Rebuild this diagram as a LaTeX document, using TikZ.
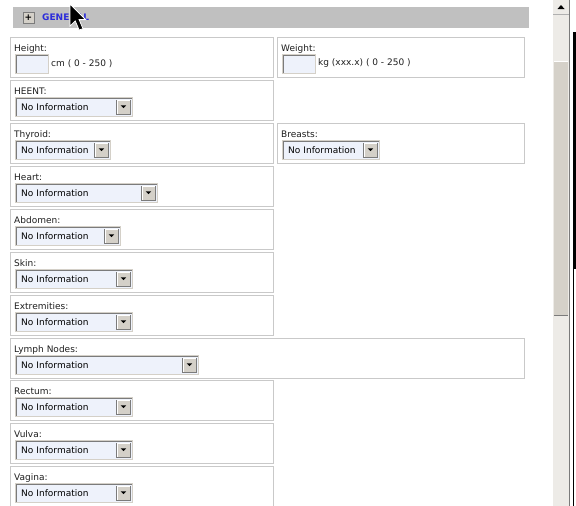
\documentclass[tikz,border=0pt]{standalone}
\usepackage{fontspec}
\setmainfont{DejaVu Sans}
\usetikzlibrary{positioning}

\definecolor{panelline}{HTML}{C9C9C9}
\definecolor{barfill}{HTML}{C0C0C0}
\definecolor{ddfill}{HTML}{EEF2FB}
\definecolor{ddlight}{HTML}{D4D0C8}
\definecolor{dddark}{HTML}{7B7B7B}
\definecolor{btnfill}{HTML}{D4D0C8}
\definecolor{linkblue}{HTML}{2C2CDA}
\definecolor{labeltext}{HTML}{1E1E1E}
\definecolor{track}{HTML}{EDEBE7}
\definecolor{thumb}{HTML}{D5D1C9}

\tikzset{
    panel/.style={draw=panelline,line width=1pt,anchor=north west,minimum height=40pt,inner sep=0pt},
    fieldlabel/.style={anchor=base west,inner sep=0pt,text=labeltext,font=\fontsize{9}{10}\selectfont},
    units/.style={anchor=west,inner sep=0pt,text=labeltext,font=\fontsize{9}{10}\selectfont},
    entry/.style={draw=ddlight,fill=ddfill,anchor=north west,minimum width=33pt,minimum height=19pt,inner sep=0pt,
        path picture={\draw[dddark,line width=3pt] (path picture bounding box.south west) -- (path picture bounding box.north west) -- (path picture bounding box.north east);}},
    dropdown/.style={draw=ddlight,fill=ddfill,anchor=north west,text width=#1,align=left,inner xsep=6pt,inner ysep=0pt,
        minimum height=19pt,font=\fontsize{9}{10}\selectfont,
        path picture={
            \draw[dddark,line width=3pt] (path picture bounding box.south west) -- (path picture bounding box.north west) -- (path picture bounding box.north east);
            \draw[dddark,fill=btnfill,line width=0.8pt] ([shift={(-15.5pt,-3pt)}]path picture bounding box.north east) rectangle ([shift={(-2pt,2pt)}]path picture bounding box.south east);
            \draw[white,line width=0.8pt] ([shift={(-15pt,2.6pt)}]path picture bounding box.south east) -- ([shift={(-15pt,-3.5pt)}]path picture bounding box.north east) -- ([shift={(-2.6pt,-3.5pt)}]path picture bounding box.north east);
            \fill[black] ([shift={(-11.5pt,1.4pt)}]path picture bounding box.east) -- ([shift={(-6pt,1.4pt)}]path picture bounding box.east) -- ([shift={(-8.75pt,-1.4pt)}]path picture bounding box.east) -- cycle;
        }},
}

\begin{document}
\begin{tikzpicture}[x=1pt,y=-1pt]

    \useasboundingbox (0,0) rectangle (576,506);

    % header bar %
    \node[fill=barfill,anchor=north west,minimum width=516pt,minimum height=21pt,inner sep=0pt] (bar) at (13,7) {};
    \node[draw=dddark,fill=btnfill,minimum size=11pt,inner sep=0pt,font=\fontsize{9}{9}\selectfont\bfseries] (toggle) at (28.5,17.5) {+};
    \node[anchor=west,inner sep=0pt,text=linkblue,font=\fontsize{9}{10}\selectfont\bfseries] (title) at (42,17.5) {GENERAL};

    \begin{scope}[every node/.style={panel,minimum width=263pt}]
        \node (height) at (10,37) {};
        \node (heent) at (10,80) {};
        \node (thyroid) at (10,123) {};
        \node (heart) at (10,166) {};
        \node (abdomen) at (10,209) {};
        \node (skin) at (10,252) {};
        \node (extremities) at (10,295) {};
        \node[minimum width=514pt] (lymph) at (10,338) {};
        \node (rectum) at (10,380) {};
        \node (vulva) at (10,423) {};
        \node (vagina) at (10,466) {};
        \node[minimum width=247pt] (weight) at (277,37) {};
        \node[minimum width=247pt] (breasts) at (277,123) {};
    \end{scope}

    \begin{scope}[every node/.style={fieldlabel}]
        \node (heightlbl) at (14,51.5) {Height:};
        \node (weightlbl) at (281,51.5) {Weight:};
        \node (heentlbl) at (14,94.5) {HEENT:};
        \node (thyroidlbl) at (14,137.5) {Thyroid:};
        \node (breastslbl) at (281,137.5) {Breasts:};
        \node (heartlbl) at (14,180.5) {Heart:};
        \node (abdomenlbl) at (14,223.5) {Abdomen:};
        \node (skinlbl) at (14,266.5) {Skin:};
        \node (extremitieslbl) at (14,309.5) {Extremities:};
        \node (lymphlbl) at (14,352.5) {Lymph Nodes:};
        \node (rectumlbl) at (14,394.5) {Rectum:};
        \node (vulvalbl) at (14,437.5) {Vulva:};
        \node (vaginalbl) at (14,480.5) {Vagina:};
    \end{scope}

    % text entries %
    \node[entry] (heightin) at (15,54) {};
    \node[units] (heightunit) at (51,63.5) {cm ( 0 - 250 )};
    \node[entry] (weightin) at (282,54) {};
    \node[units] (weightunit) at (318,63.5) {kg (xxx.x) ( 0 - 250 )};

    % select boxes %
    \node[dropdown=105pt] (heentdd) at (15,97) {No Information};
    \node[dropdown=83pt] (thyroiddd) at (15,140) {No Information};
    \node[dropdown=85pt] (breastsdd) at (282,140) {No Information};
    \node[dropdown=130pt] (heartdd) at (15,183) {No Information};
    \node[dropdown=93pt] (abdomendd) at (15,226) {No Information};
    \node[dropdown=105pt] (skindd) at (15,269) {No Information};
    \node[dropdown=105pt] (extremitiesdd) at (15,312) {No Information};
    \node[dropdown=171pt] (lymphdd) at (15,355) {No Information};
    \node[dropdown=105pt] (rectumdd) at (15,397) {No Information};
    \node[dropdown=105pt] (vulvadd) at (15,440) {No Information};
    \node[dropdown=105pt] (vaginadd) at (15,483) {No Information};

    % scroll bar %
    \fill[track] (553,0) rectangle (569,506);
    \draw[dddark!60] (553,14.5) -- (569,14.5);
    \fill (557.5,9) -- (564.5,9) -- (561,5) -- cycle;
    \fill[thumb] (554,61) rectangle (568,315);
    \draw[white] (554,61.5) -- (568,61.5);
    \draw[dddark,line width=1pt] (554,315) -- (568,315);
    \draw[dddark,line width=1pt] (569.5,0) -- (569.5,506);
    \draw[black,line width=2.5pt] (574.5,32) -- (574.5,268);
    \draw[black,line width=0.8pt] (573.5,268) -- (573.5,506);
    \draw[black,line width=0.8pt] (573.5,268) -- (576,268);

    % mouse pointer %
    \draw[white,fill=black,line width=0.8pt,line join=miter,shift={(70,4)},scale=1.3] (0,0) -- (0,17) -- (4,13) -- (7,20) -- (10,19) -- (7,12) -- (12,12) -- cycle;

\end{tikzpicture}
\end{document}
